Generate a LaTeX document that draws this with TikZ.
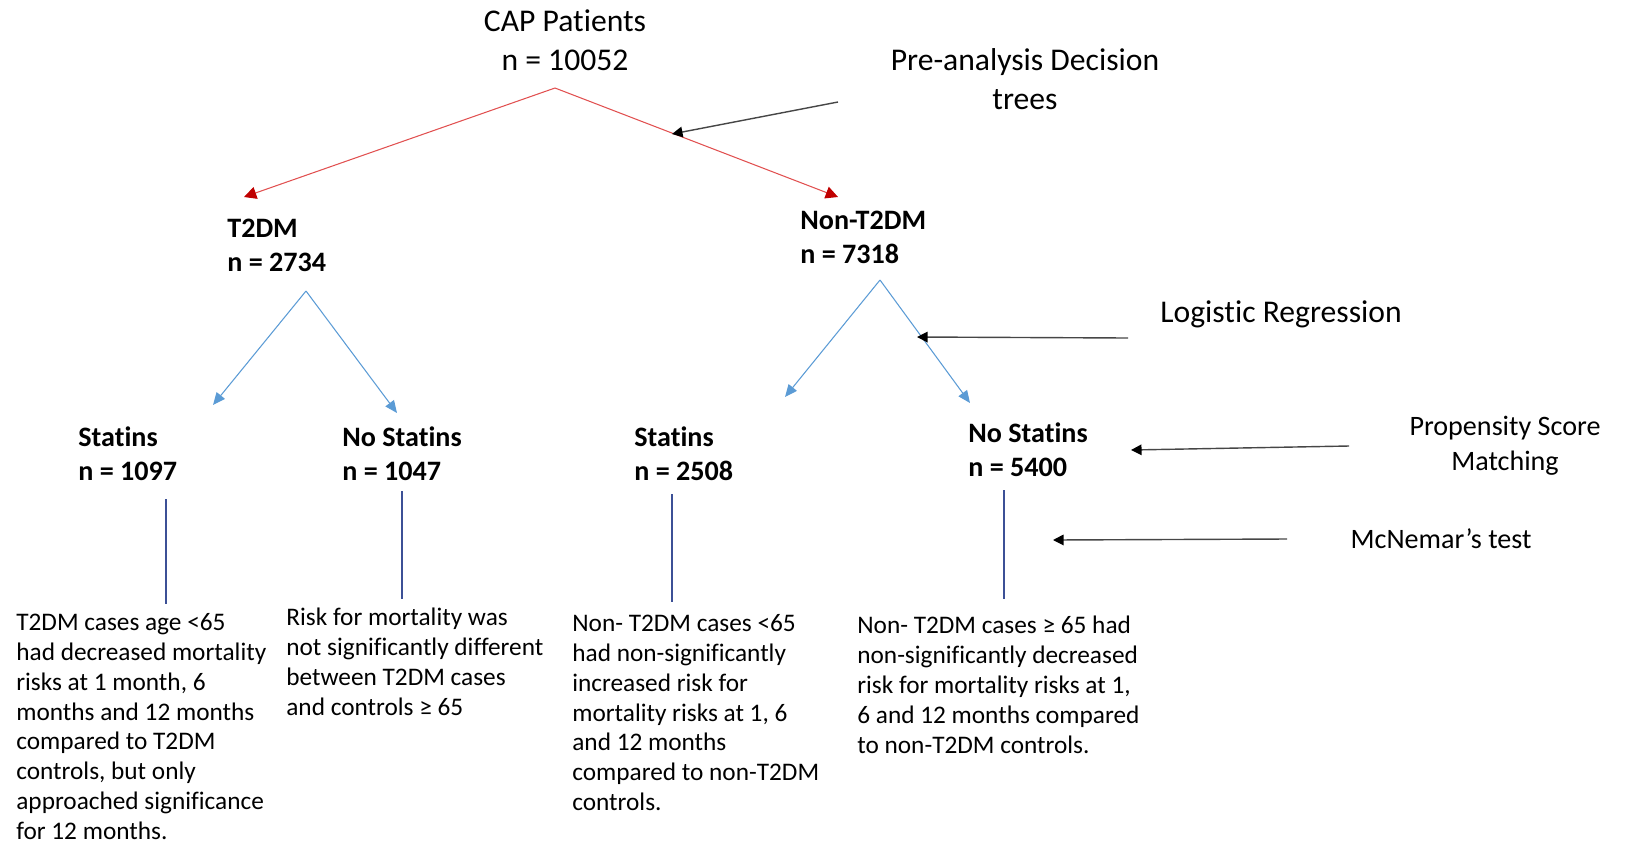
\documentclass[tikz,border=0pt]{standalone}
\usepackage{fontspec}
\setmainfont{Carlito}[Ligatures=NoCommon]
\usetikzlibrary{arrows.meta,positioning}
\definecolor{capred}{RGB}{225,80,80}
\definecolor{tipred}{RGB}{192,0,0}
\definecolor{capblue}{RGB}{91,155,213}
\definecolor{stemblue}{RGB}{60,80,150}
\definecolor{pointgray}{RGB}{70,70,70}
\tikzset{
  top/.style={font=\fontsize{18}{22.4}\selectfont,align=center,inner sep=0pt},
  grp/.style={font=\fontsize{16}{19.3}\selectfont\bfseries,align=left,
              anchor=west,inner sep=0pt},
  note/.style={font=\fontsize{14.4}{17}\selectfont,align=left,
               anchor=north west,inner sep=0pt},
  method/.style={font=\fontsize{18}{22.4}\selectfont,align=center,inner sep=0pt},
  testlbl/.style={font=\fontsize{16}{19.8}\selectfont,align=center,inner sep=0pt},
  redarr/.style={capred,line width=0.6pt,
                 -{Triangle[length=7pt,width=7pt,color=tipred,fill=tipred]}},
  bluearr/.style={capblue,line width=0.6pt,
                  -{Triangle[length=7pt,width=6pt]}},
  stem/.style={stemblue,line width=0.6pt},
  pointer/.style={pointgray,line width=0.8pt,
                  -{Triangle[length=6pt,width=6pt,color=black,fill=black]}},
}

\begin{document}
\begin{tikzpicture}[x=0.02cm,y=-0.02cm]
  \useasboundingbox (0,0) rectangle (1627,843);

  %% root
  \node[top] (cap) at (565,40) {CAP Patients\\n = 10052};
  \coordinate (capsplit) at (555,88);
  \coordinate (t2tip) at (244,197);
  \coordinate (nt2tip) at (838,197);
  \draw[redarr] (capsplit) -- (t2tip);
  \draw[redarr] (capsplit) -- (nt2tip);

  %% first split
  \node[grp] (t2dm) at (227,245) {T2DM\\n = 2734};
  \node[grp] (nont2dm) at (800,237) {Non-T2DM\\n = 7318};

  %% second split
  \node[grp] (stat1) at (78,454) {Statins\\n = 1097};
  \node[grp] (nostat1) at (342,454) {No Statins\\n = 1047};
  \node[grp] (stat2) at (634,454) {Statins\\n = 2508};
  \node[grp] (nostat2) at (968,450) {No Statins\\n = 5400};

  \coordinate (t2split) at (306,291);
  \coordinate (nt2split) at (880,280);
  \draw[bluearr] (t2split) -- (213,405) coordinate (stat1tip);
  \draw[bluearr] (t2split) -- (397,413) coordinate (nostat1tip);
  \draw[bluearr] (nt2split) -- (785,397) coordinate (stat2tip);
  \draw[bluearr] (nt2split) -- (970,403) coordinate (nostat2tip);

  %% stems
  \foreach \name/\x/\ya/\yb in {stat1/166/499/604, nostat1/402/491/599,
                                stat2/672/494/602, nostat2/1004/490/599}{
    \coordinate (\name top) at (\x,\ya);
    \coordinate (\name bot) at (\x,\yb);
    \draw[stem] (\name top) -- (\name bot);
  }

  %% outcomes
  \node[note] (res1) at (16,613) {T2DM cases age <65\\had decreased mortality\\
    risks at 1 month, 6\\months and 12 months\\compared to T2DM\\
    controls, but only\\approached significance\\for 12 months.};
  \node[note] (res2) at (286,608) {Risk for mortality was\\
    not significantly different\\between T2DM cases\\and controls ≥ 65};
  \node[note] (res3) at (572,614) {Non- T2DM cases <65\\had non-significantly\\
    increased risk for\\mortality risks at 1, 6\\and 12 months\\
    compared to non-T2DM\\controls.};
  \node[note] (res4) at (857,616) {Non- T2DM cases ≥ 65 had\\
    non-significantly decreased\\risk for mortality risks at 1,\\
    6 and 12 months compared\\to non-T2DM controls.};

  %% methods
  \node[method] (pre) at (1025,79) {Pre-analysis Decision\\trees};
  \node[method,anchor=west] (logit) at (1160,314) {Logistic Regression};
  \node[testlbl] (psm) at (1505,446) {Propensity Score\\Matching};
  \node[testlbl] (mcn) at (1441,539) {McNemar’s test};

  \coordinate (prefrom) at (838,102);
  \coordinate (preto) at (672,134);
  \coordinate (logitfrom) at (1128,338);
  \coordinate (logitto) at (917,337);
  \coordinate (psmfrom) at (1349,446);
  \coordinate (psmto) at (1131,450);
  \coordinate (mcnfrom) at (1287,539);
  \coordinate (mcnto) at (1053,540);
  \draw[pointer] (prefrom) -- (preto);
  \draw[pointer] (logitfrom) -- (logitto);
  \draw[pointer] (psmfrom) -- (psmto);
  \draw[pointer] (mcnfrom) -- (mcnto);

\end{tikzpicture}
\end{document}
